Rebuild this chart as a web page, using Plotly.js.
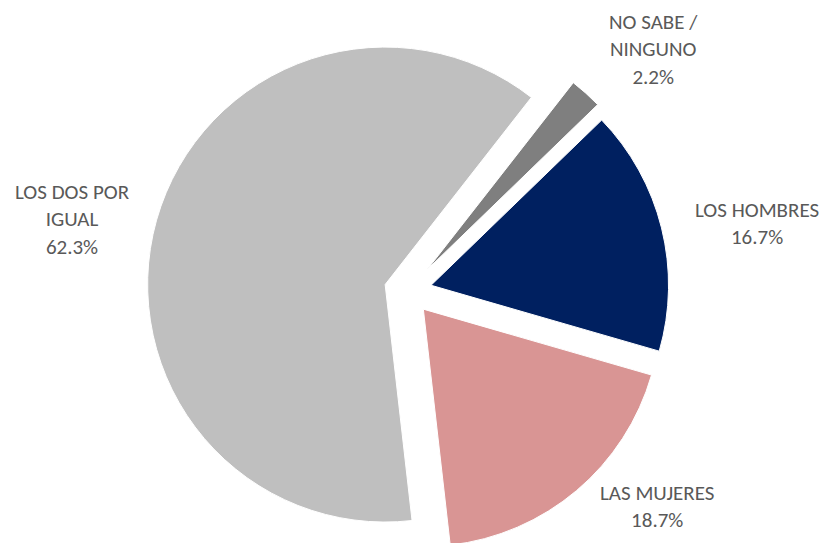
<!DOCTYPE html>
<html>
<head>
<meta charset="utf-8">
<script src="https://cdn.plot.ly/plotly-3.0.1.min.js"></script>
<style>
html,body{margin:0;padding:0;overflow:hidden;background:#fff;}
#chart{width:823px;height:583px;}
</style>
</head>
<body>
<div id="chart"></div>
<script>
// Data
const categories = ["NO SABE /<br>NINGUNO", "LOS HOMBRES", "LAS MUJERES", "LOS DOS POR<br>IGUAL"];
const values = [2.2, 16.7, 18.7, 62.3];
const colors = ["#7F7F7F", "#002060", "#D99594", "#BFBFBF"];
const pulls = [0.12, 0.1, 0.1, 0.1];

// Label anchor positions (pixels in the 823-wide layout)
const labelPos = [[653, 49], [757, 223], [657, 507], [72, 219]];

const W = 823, H = 583;

const trace = {
  type: "pie",
  labels: categories,
  values: values,
  sort: false,
  direction: "clockwise",
  rotation: 38,
  pull: pulls,
  textinfo: "none",
  hoverinfo: "label+value",
  marker: {colors: colors, line: {color: "#ffffff", width: 1}},
  domain: {x: [142 / W, 674 / W], y: [1 - 557 / H, 1 - 25 / H]},
  showlegend: false
};

const annotations = categories.map((c, i) => ({
  text: c + "<br>" + values[i].toFixed(1) + "%",
  xref: "paper", yref: "paper",
  x: labelPos[i][0] / W, y: 1 - labelPos[i][1] / H,
  xanchor: "center", yanchor: "middle", align: "center",
  showarrow: false,
  font: {family: "Carlito, Calibri, Lato, sans-serif", size: 21, color: "#595959"}
}));

const layout = {
  width: W, height: H,
  margin: {l: 0, r: 0, t: 0, b: 0},
  paper_bgcolor: "#ffffff",
  plot_bgcolor: "#ffffff",
  annotations: annotations
};

Plotly.newPlot("chart", [trace], layout, {displayModeBar: false, staticPlot: true});
</script>
</body>
</html>
